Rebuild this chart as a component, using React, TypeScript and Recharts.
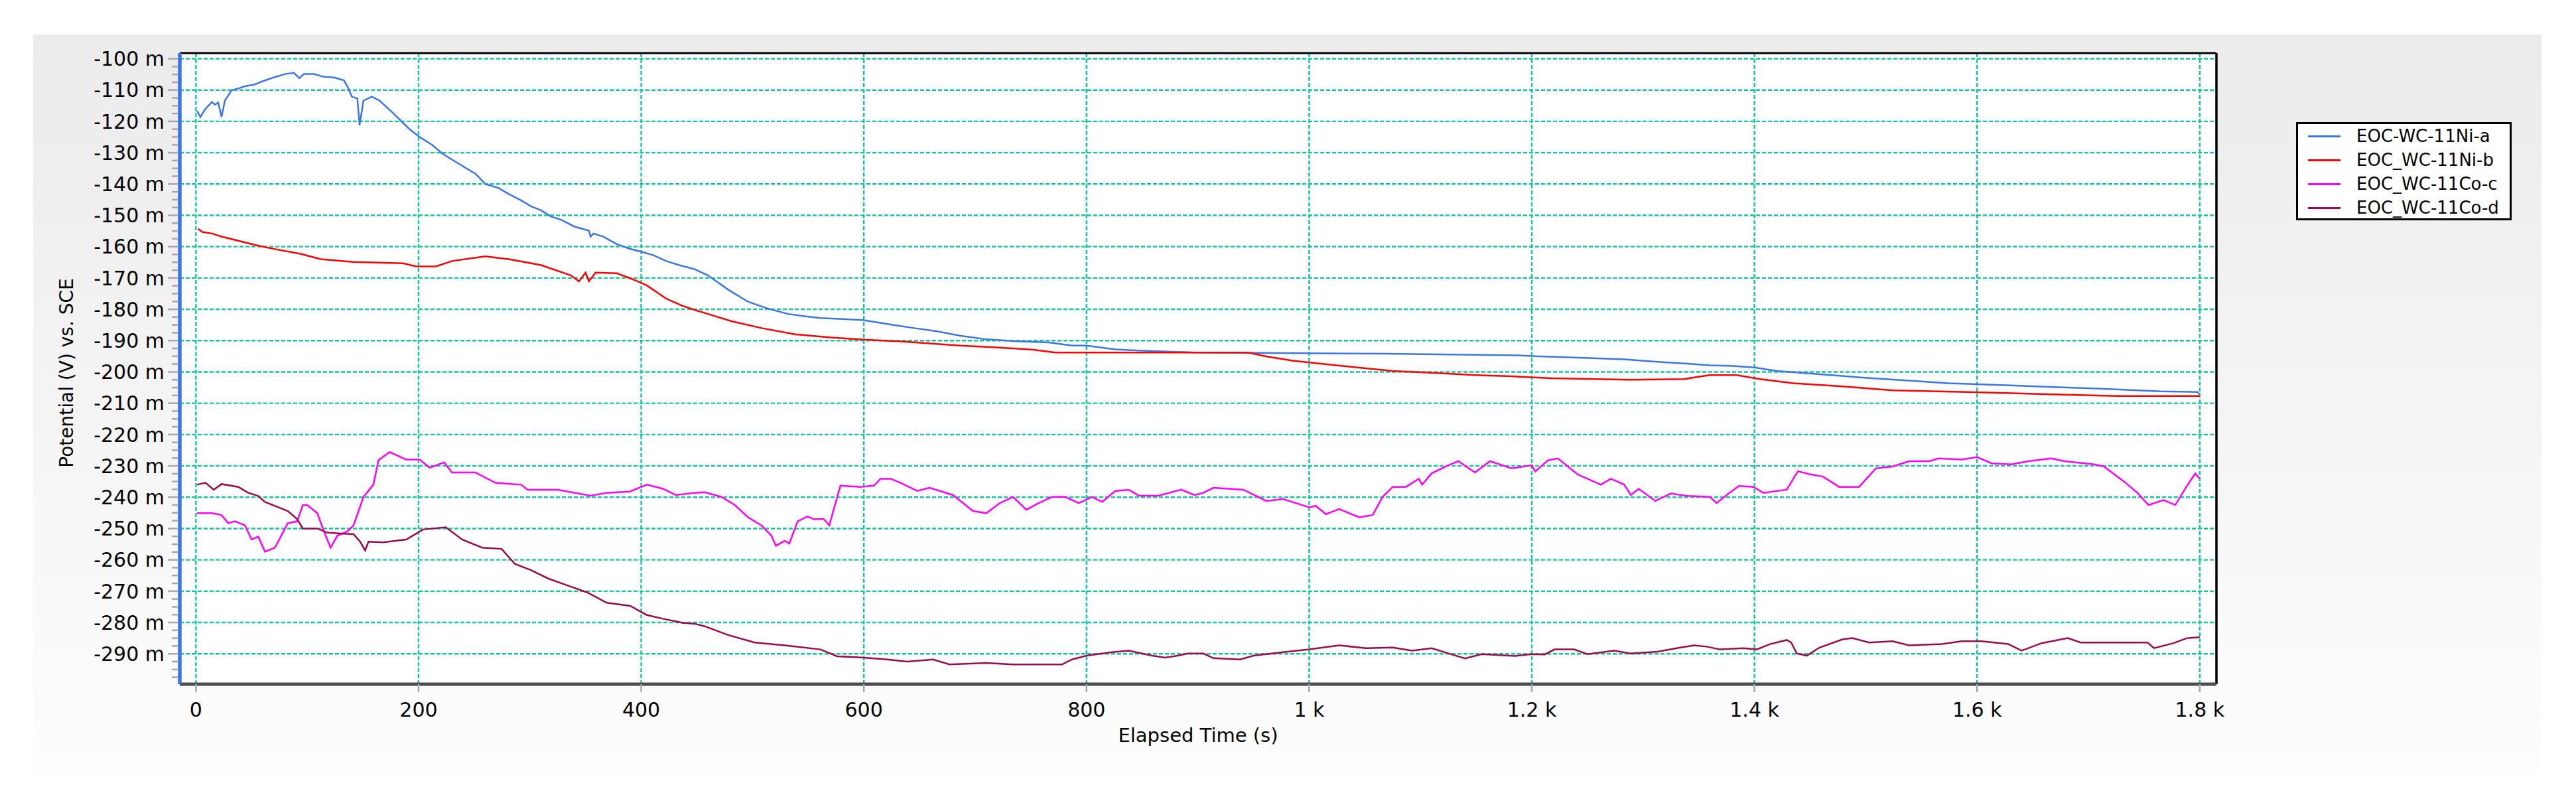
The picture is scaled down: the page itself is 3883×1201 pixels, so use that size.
import React from "react";
import { LineChart, Line, XAxis, YAxis, CartesianGrid, ReferenceLine } from "recharts";

const FONT = "'DejaVu Sans', Tahoma, Verdana, sans-serif";

// axis ticks
const X_TICKS = [0, 200, 400, 600, 800, 1000, 1200, 1400, 1600, 1800];
const Y_TICKS = [-100, -110, -120, -130, -140, -150, -160, -170, -180, -190, -200, -210, -220, -230, -240, -250, -260, -270, -280, -290];
const Y_MINOR = Y_TICKS.flatMap((v) => [v, v - 2.5, v - 5, v - 7.5]);

// [elapsed time (s), potential (mV)]
const NI_A: [number, number][] = [
  [1, -116.6], [4, -118.6], [8.6, -116], [14.5, -113.8], [17, -114.7], [20, -114], [23, -118.6], [26, -113.4],
  [32, -110.1], [38, -109.5], [44, -108.8], [53, -108.2], [59, -107.3], [68, -106.2], [80, -104.9], [88, -104.5],
  [93, -106.2], [97, -104.9], [106, -104.9], [115, -105.8], [124, -106], [133, -106.9], [137, -109.5], [140, -112.1],
  [145, -112.7], [147, -121.2], [150.5, -113.4], [158, -112.1], [165, -113.4], [177, -117.3], [186, -120.5],
  [192, -122.5], [201, -125], [212.5, -127.6], [221, -130.2], [230, -132.2], [242, -134.8], [251, -136.7],
  [260, -140], [272, -141.3], [281, -143.2], [292, -145.2], [301, -147.1], [310, -148.4], [319, -150.4],
  [328, -151.4], [340, -153.6], [353, -154.9], [354.5, -156.8], [357, -155.8], [366, -156.8], [378, -159.2],
  [390, -160.7], [400, -161.6], [410.6, -162.7], [422.5, -164.6], [434, -165.9], [448, -167.2], [460, -169.2],
  [478, -173.7], [496, -177.6], [514, -179.8], [532, -181.5], [546.5, -182.2], [561, -182.8], [581, -183.1],
  [600, -183.5], [621, -184.7], [645, -186], [665, -187], [686, -188.4], [710, -189.6], [737, -190.2],
  [766, -190.6], [787, -191.6], [800, -191.6], [811, -192.1], [826, -192.8], [847, -193.2], [864.5, -193.4],
  [900, -193.8], [1069, -194.2], [1188, -194.7], [1203, -195], [1247, -195.5], [1283, -196], [1313, -196.8],
  [1337, -197.3], [1360, -197.9], [1381, -198.1], [1400, -198.6], [1420, -199.7], [1457, -200.7], [1497, -201.8],
  [1545, -202.9], [1574, -203.6], [1622, -204.2], [1672.5, -204.9], [1708, -205.3], [1765, -206.2],
  [1798, -206.4], [1800, -207.2],
];

const NI_B: [number, number][] = [
  [2, -154.3], [5.6, -155.3], [14.5, -155.8], [23, -156.8], [38, -158.1], [56, -159.7], [74, -161], [94, -162.3],
  [112, -164], [141.6, -164.9], [186, -165.3], [198, -166.3], [215.5, -166.3], [230, -164.6], [260, -163.1],
  [281, -164], [310, -165.9], [337, -169.2], [344, -171.1], [350, -168.3], [353, -171.1], [359, -168.3],
  [378, -168.5], [393, -170.5], [405, -172.4], [422.5, -176.6], [437, -178.9], [448, -180.2], [460, -181.5],
  [481, -183.8], [508, -186], [538, -188], [570, -189], [600, -189.7], [636, -190.3], [686, -191.6], [716, -192.1],
  [752, -192.9], [772, -193.8], [945, -193.8], [962, -195.1], [985, -196.4], [1003, -197.1], [1039, -198.4],
  [1075, -199.7], [1110, -200.3], [1149, -201], [1182, -201.4], [1218, -202], [1289, -202.5], [1337, -202.3],
  [1348.5, -201.6], [1360, -201], [1384, -201], [1405, -202.3], [1435, -203.6], [1479, -204.6], [1524, -205.9],
  [1592, -206.4], [1672.5, -207.2], [1726, -207.7], [1800, -207.7],
];

const CO_C: [number, number][] = [
  [1, -245.1], [14.5, -245.1], [23, -245.7], [29, -248.3], [35, -247.7], [44, -249], [50, -253.5], [56, -252.6],
  [62, -257.4], [71, -256.1], [82.5, -248.3], [91, -247.7], [96, -242.5], [100, -242.5], [109, -245.1],
  [115, -250.9], [121, -256.1], [127, -252.3], [136, -250.9], [141.6, -249], [150.5, -239.9], [159.4, -236],
  [164, -228.2], [174, -225.6], [189, -228], [201, -228], [210, -230.6], [223, -228.9], [230, -232.1],
  [251, -232.1], [269, -235.4], [292, -236], [298, -237.6], [325, -237.6], [354.5, -239.5], [369, -238.6],
  [390, -238.2], [405, -236], [419.5, -237.3], [431, -239.3], [448, -238.6], [457, -238.4], [472, -239.9],
  [484, -242.5], [496, -246.4], [508, -249], [517, -252.3], [521, -255.5], [529, -253.9], [533, -254.8],
  [540.5, -247.7], [549.5, -246.1], [555, -247], [564, -247], [569, -249], [573, -243.8], [579, -236.3],
  [597, -236.7], [609, -236.3], [615, -234.1], [624, -234.1], [633, -235.4], [648, -238], [659, -237],
  [680, -239.3], [698, -244.4], [710, -245.1], [722, -241.9], [734, -239.9], [746, -244], [757, -241.9],
  [769, -239.9], [781, -239.9], [793, -241.9], [805, -239.9], [814, -241.5], [826, -238], [838, -237.6],
  [847, -239.5], [864.5, -239.5], [885, -237.6], [897, -239.3], [905, -238.6], [914, -237], [941, -237.6],
  [961.6, -241.2], [976.5, -240.6], [1000, -243.2], [1006, -242.8], [1015, -245.4], [1027, -243.8],
  [1045, -246.4], [1057, -245.7], [1066, -239.9], [1075, -236.7], [1087, -236.7], [1098.5, -234.1],
  [1101.5, -236], [1110, -232.4], [1125, -229.8], [1134, -228.5], [1149, -232.1], [1162.5, -228.5],
  [1182, -230.8], [1200, -229.8], [1203, -231.8], [1214.6, -228.2], [1223.5, -227.6], [1241, -232.7],
  [1262, -236], [1271, -234.1], [1283, -236], [1289, -239.3], [1296, -237.3], [1311, -241.2], [1325, -238.8],
  [1339.6, -239.6], [1360, -239.9], [1366, -241.9], [1375, -239.3], [1386, -236.4], [1399, -236.7],
  [1408, -238.6], [1429, -237.6], [1439, -231.7], [1450, -232.7], [1461.5, -233.4], [1476, -236.7],
  [1494, -236.7], [1509, -230.8], [1524, -230.2], [1539, -228.5], [1557, -228.5], [1565.5, -227.6],
  [1586, -228], [1600, -227.2], [1613, -229.2], [1631, -229.5], [1646, -228.5], [1666.5, -227.6],
  [1678.5, -228.5], [1705, -229.5], [1714, -230.2], [1732, -235], [1744, -238.6], [1754, -242.5],
  [1767.6, -240.9], [1778, -242.5], [1788, -236.7], [1796, -232.4], [1800, -234.1],
];

const CO_D: [number, number][] = [
  [1, -236], [8.6, -235.4], [16, -237.6], [23, -235.8], [38, -236.7], [47, -238.6], [56, -239.6], [62, -241.5],
  [74, -243.2], [82.5, -244.4], [91, -247], [96, -250], [109, -250], [118, -251.3], [130, -251.6],
  [141.6, -251.8], [147.5, -254.2], [152, -257], [155, -254.2], [168, -254.4], [189, -253.5], [204, -250.3],
  [224.5, -249.6], [239, -253.5], [257, -256.1], [274.6, -256.5], [286.5, -261.3], [301, -263.3], [316, -265.9],
  [334, -268.2], [351.5, -270.4], [369, -273.7], [390, -274.7], [405, -277.6], [419.5, -278.8], [437, -280.1],
  [448, -280.4], [457, -281.2], [478, -284], [502, -286.4], [529, -287.3], [561, -288.6], [576, -290.8],
  [600, -291.2], [621, -291.8], [639, -292.5], [662, -291.8], [677, -293.4], [710, -292.9], [734, -293.4],
  [778, -293.4], [787, -291.8], [800, -290.6], [823, -289.5], [838, -289], [859, -290.6], [870.5, -291.2],
  [882, -290.6], [891, -289.9], [905, -289.9], [914, -291.4], [938, -291.8], [950, -290.6], [976.5, -289.5],
  [1000, -288.6], [1027, -287.3], [1051, -288.2], [1075, -288], [1092.6, -289], [1110, -288.2], [1128, -290.2],
  [1140, -291.5], [1155, -290.1], [1185, -290.7], [1200, -290.1], [1211.6, -290.2], [1220.5, -288.6],
  [1238, -288.6], [1250, -290.1], [1274, -289], [1289, -289.9], [1313, -289.3], [1333.6, -288], [1345.5, -287.3],
  [1357, -287.7], [1369, -288.6], [1390, -288.2], [1402, -288.6], [1414, -286.9], [1429, -285.6], [1433, -286.4],
  [1438, -289.9], [1447, -290.6], [1458.5, -288], [1479, -285.4], [1488, -285], [1503, -286.4], [1524, -286],
  [1539, -287.3], [1568.5, -286.9], [1586, -286], [1604, -286], [1628, -286.9], [1640, -289], [1658, -286.6],
  [1681.5, -285], [1693, -286.4], [1732, -286.4], [1753, -286.4], [1759, -288.2], [1776.5, -286.6],
  [1788.5, -285], [1800, -284.7],
];

const SERIES = [
  { name: "EOC-WC-11Ni-a", color: "#3b76e6", points: NI_A },
  { name: "EOC_WC-11Ni-b", color: "#ff0000", points: NI_B },
  { name: "EOC_WC-11Co-c", color: "#ff00ff", points: CO_C },
  { name: "EOC_WC-11Co-d", color: "#9c0a4a", points: CO_D },
];

const X_DOMAIN: [number, number] = [-14.5, 1815];
const Y_DOMAIN: [number, number] = [-299.7, -98.2];

const Y_TICK_SIZE = 18;
const Y_TICK_MARGIN = 5;

const fmtX = (v: number) => (v >= 1000 ? `${v / 1000} k` : `${v}`);

function YTick(props: any) {
  const { x, y, payload } = props;
  const v = payload.value;
  const major = Y_TICKS.includes(v);
  const axisX = x + Y_TICK_SIZE + Y_TICK_MARGIN;
  return (
    <g>
      <line x1={axisX - (major ? 18 : 12)} x2={axisX - 2} y1={y} y2={y} stroke="#a8a8a8" strokeWidth={2.5} />
      {major && (
        <text x={x} y={y} dy="0.36em" textAnchor="end" fontFamily={FONT} fontSize={30} fill="#000">
          {`${v} m`}
        </text>
      )}
    </g>
  );
}

function XTick(props: any) {
  const { x, y, payload } = props;
  return (
    <text x={x} y={y} dy="0.73em" textAnchor="middle" fontFamily={FONT} fontSize={30} fill="#000">
      {fmtX(payload.value)}
    </text>
  );
}

const xTitle = () => (
  <text x={1806} y={1118} textAnchor="middle" fontFamily={FONT} fontSize={29} fill="#000">
    Elapsed Time (s)
  </text>
);

const yTitle = () => (
  <text x={100} y={562} transform="rotate(-90, 100, 562)" dy="0.36em" textAnchor="middle" fontFamily={FONT} fontSize={28} fill="#000">
    Potential (V) vs. SCE
  </text>
);

export default function App() {
  return (
    <div style={{ position: "absolute", left: 0, top: 0, width: 3883, height: 1201, background: "#fff", overflow: "hidden" }}>
      {/* grauer Hintergrund */}
      <div
        style={{
          position: "absolute",
          left: 50,
          top: 52,
          width: 3781,
          height: 1110,
          background: "linear-gradient(#ebebeb, #fdfdfd)",
        }}
      />
      <div style={{ position: "absolute", left: 0, top: 0 }}>
        <LineChart width={3883} height={1201} margin={{ top: 80, right: 542, bottom: 70, left: 50 }}>
          <CartesianGrid
            fill="#fff"
            stroke="#0fc99c"
            strokeDasharray="6 3"
            strokeWidth={2.4}
            horizontalValues={Y_TICKS}
          />
          <XAxis
            dataKey="t"
            type="number"
            domain={X_DOMAIN}
            ticks={X_TICKS}
            interval={0}
            height={100}
            tick={<XTick />}
            tickSize={12}
            tickMargin={15}
            tickLine={{ stroke: "#a8a8a8", strokeWidth: 2.5 }}
            axisLine={{ stroke: "#4d4d4d", strokeWidth: 5 }}
            label={{ content: xTitle }}
            allowDataOverflow
          />
          <YAxis
            type="number"
            domain={Y_DOMAIN}
            ticks={Y_MINOR}
            interval={0}
            width={221}
            tick={<YTick />}
            tickSize={Y_TICK_SIZE}
            tickMargin={Y_TICK_MARGIN}
            tickLine={false}
            axisLine={{ stroke: "#3c74e8", strokeWidth: 5.5 }}
            label={{ content: yTitle }}
            allowDataOverflow
          />
          <ReferenceLine y={Y_DOMAIN[1]} stroke="#000" strokeWidth={3} ifOverflow="visible" />
          <ReferenceLine x={X_DOMAIN[1]} stroke="#000" strokeWidth={3.5} ifOverflow="visible" />
          {SERIES.map((s) => (
            <Line
              key={s.name}
              name={s.name}
              data={s.points.map(([t, v]) => ({ t, v }))}
              dataKey="v"
              type="linear"
              stroke={s.color}
              strokeWidth={2.5}
              dot={false}
              activeDot={false}
              isAnimationActive={false}
            />
          ))}
        </LineChart>
      </div>
      {/* Legende */}
      <div
        style={{
          position: "absolute",
          left: 3461,
          top: 184,
          width: 325,
          height: 148,
          boxSizing: "border-box",
          border: "3px solid #000",
          background: "#fff",
          fontFamily: FONT,
          fontSize: 26,
          color: "#000",
        }}
      >
        {SERIES.map((s) => (
          <div key={s.name} style={{ height: 36, display: "flex", alignItems: "center" }}>
            <div style={{ marginLeft: 15, width: 49, height: 3, background: s.color }} />
            <div style={{ marginLeft: 24, lineHeight: "36px", whiteSpace: "nowrap" }}>{s.name}</div>
          </div>
        ))}
      </div>
    </div>
  );
}
